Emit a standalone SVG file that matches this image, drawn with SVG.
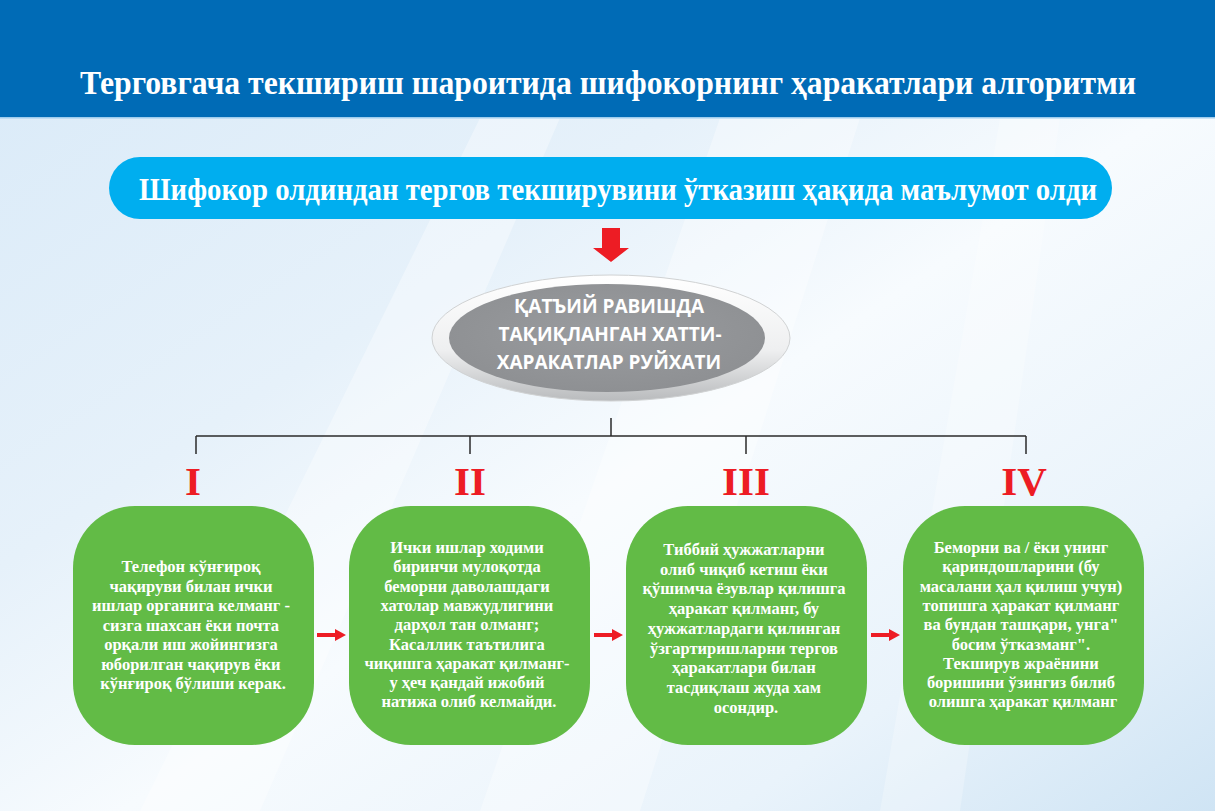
<svg xmlns="http://www.w3.org/2000/svg" width="1215" height="811" viewBox="0 0 1215 811">
  <defs>
    <linearGradient id="bg" x1="0" y1="0" x2="1" y2="1">
      <stop offset="0" stop-color="#d9eaf8"/>
      <stop offset="0.35" stop-color="#e6f1fa"/>
      <stop offset="0.55" stop-color="#f7fbfe"/>
      <stop offset="0.8" stop-color="#e9f3fb"/>
      <stop offset="1" stop-color="#cfe4f4"/>
    </linearGradient>
    <linearGradient id="ring" x1="0" y1="0" x2="0" y2="1">
      <stop offset="0" stop-color="#ffffff"/>
      <stop offset="0.6" stop-color="#eeeff0"/>
      <stop offset="1" stop-color="#b9bbbd"/>
    </linearGradient>
    <radialGradient id="core" cx="0.5" cy="0.45" r="0.6">
      <stop offset="0" stop-color="#9a9c9f"/>
      <stop offset="1" stop-color="#8d8f92"/>
    </radialGradient>
    <style>
      .title { font-family: "Liberation Serif", "DejaVu Serif", serif; font-weight: bold; fill: #ffffff; }
      .box { fill: #62bb46; }
      .boxtxt { font-family: "Liberation Serif", "DejaVu Serif", serif; font-weight: bold; font-size: 16.5px; fill: #ffffff; text-anchor: middle; }
      .roman { font-family: "Liberation Serif", "DejaVu Serif", serif; font-weight: bold; font-size: 41px; fill: #ed1c24; text-anchor: middle; }
      .ovaltxt { font-family: "Open Sans", "DejaVu Sans", sans-serif; font-weight: bold; font-size: 19px; fill: #ffffff; text-anchor: middle; }
      .tree { stroke: #2b2b2b; stroke-width: 1.5; fill: none; }
      .red { fill: #ed1c24; }
    </style>
  </defs>

  <!-- background -->
  <rect x="0" y="0" width="1215" height="811" fill="url(#bg)"/>
  <polygon points="480,118 560,118 260,811 140,811" fill="#ffffff" opacity="0.35"/>
  <polygon points="720,118 860,118 640,811 480,811" fill="#ffffff" opacity="0.35"/>
  <polygon points="1000,118 1060,118 960,811 880,811" fill="#ffffff" opacity="0.25"/>

  <!-- header -->
  <g id="header">
    <rect x="0" y="0" width="1215" height="117" fill="#006bb6"/>
    <rect x="0" y="117" width="1215" height="1.5" fill="#9fcdee"/>
    <text class="title" x="80" y="94" font-size="34" textLength="1056" lengthAdjust="spacingAndGlyphs">Терговгача текшириш шароитида шифокорнинг ҳаракатлари алгоритми</text>
  </g>

  <!-- start pill -->
  <g id="start">
    <rect x="109" y="157" width="1003" height="62" rx="31" ry="31" fill="#00aeef"/>
    <text class="title" x="139" y="200" font-size="32" textLength="958" lengthAdjust="spacingAndGlyphs">Шифокор олдиндан тергов текширувини ўтказиш ҳақида маълумот олди</text>
  </g>

  <!-- oval -->
  <g id="oval">
    <ellipse cx="611" cy="338" rx="179" ry="63" fill="url(#ring)" stroke="#d0d2d3" stroke-width="1"/>
    <ellipse cx="607" cy="338" rx="158" ry="54" fill="url(#core)"/>
    <text class="ovaltxt" x="609" y="313">ҚАТЪИЙ РАВИШДА</text>
    <text class="ovaltxt" x="610" y="341">ТАҚИҚЛАНГАН ХАТТИ-</text>
    <text class="ovaltxt" x="609" y="369">ХАРАКАТЛАР РУЙХАТИ</text>
  </g>

  <!-- connectors -->
  <g id="connectors">
    <polygon class="red" points="602,228 620,228 620,248 629,248 611,262 593,248 602,248"/>
    <path class="tree" d="M611,418 V436 M196,436 H1026 M196,436 V454 M470,436 V454 M746,436 V454 M1026,436 V454"/>
    <polygon class="red" points="317,633 335,633 335,629 346,635 335,641 335,637 317,637"/>
    <polygon class="red" points="594,633 612,633 612,629 623,635 612,641 612,637 594,637"/>
    <polygon class="red" points="871,633 889,633 889,629 900,635 889,641 889,637 871,637"/>
  </g>

  <!-- roman numerals -->
  <g id="numerals">
    <text class="roman" x="193" y="495">I</text>
    <text class="roman" x="470" y="495">II</text>
    <text class="roman" x="746" y="495">III</text>
    <text class="roman" x="1024" y="495">IV</text>
  </g>

  <!-- box I -->
  <g id="box1">
    <rect class="box" x="73" y="506" width="241" height="239" rx="62" ry="62"/>
    <text class="boxtxt">
      <tspan x="193" y="572">Телефон кўнғироқ</tspan>
      <tspan x="193" y="591.5">чақируви билан ички</tspan>
      <tspan x="193" y="611">ишлар органига келманг -</tspan>
      <tspan x="193" y="630.5">сизга шахсан ёки почта</tspan>
      <tspan x="193" y="650">орқали иш жойингизга</tspan>
      <tspan x="193" y="669.5">юборилган  чақирув ёки</tspan>
      <tspan x="193" y="689">кўнғироқ бўлиши  керак.</tspan>
    </text>
  </g>

  <!-- box II -->
  <g id="box2">
    <rect class="box" x="349" y="506" width="241" height="239" rx="62" ry="62"/>
    <text class="boxtxt">
      <tspan x="469" y="553">Ички ишлар ходими</tspan>
      <tspan x="469" y="572.3">биринчи мулоқотда</tspan>
      <tspan x="469" y="591.6">беморни даволашдаги</tspan>
      <tspan x="469" y="610.9">хатолар мавжудлигини</tspan>
      <tspan x="469" y="630.2">дарҳол тан олманг;</tspan>
      <tspan x="469" y="649.5">Касаллик таътилига</tspan>
      <tspan x="469" y="668.8">чиқишга  ҳаракат қилманг-</tspan>
      <tspan x="469" y="688.1">у ҳеч қандай ижобий</tspan>
      <tspan x="469" y="707.4">натижа  олиб келмайди.</tspan>
    </text>
  </g>

  <!-- box III -->
  <g id="box3">
    <rect class="box" x="626" y="506" width="241" height="239" rx="62" ry="62"/>
    <text class="boxtxt">
      <tspan x="746" y="555">Тиббий ҳужжатларни</tspan>
      <tspan x="746" y="574.7">олиб чиқиб кетиш ёки</tspan>
      <tspan x="746" y="594.4">қўшимча ёзувлар қилишга</tspan>
      <tspan x="746" y="614.1">ҳаракат қилманг,  бу</tspan>
      <tspan x="746" y="633.8">ҳужжатлардаги қилинган</tspan>
      <tspan x="746" y="653.5">ўзгартиришларни тергов</tspan>
      <tspan x="746" y="673.2">ҳаракатлари билан</tspan>
      <tspan x="746" y="692.9">тасдиқлаш жуда хам</tspan>
      <tspan x="746" y="712.6">осондир.</tspan>
    </text>
  </g>

  <!-- box IV -->
  <g id="box4">
    <rect class="box" x="903" y="506" width="241" height="239" rx="62" ry="62"/>
    <text class="boxtxt">
      <tspan x="1023" y="553">Беморни ва / ёки унинг</tspan>
      <tspan x="1023" y="572.3">қариндошларини (бу</tspan>
      <tspan x="1023" y="591.6">масалани ҳал қилиш учун)</tspan>
      <tspan x="1023" y="610.9">топишга ҳаракат қилманг</tspan>
      <tspan x="1023" y="630.2">ва бундан ташқари, унга"</tspan>
      <tspan x="1023" y="649.5">босим ўтказманг".</tspan>
      <tspan x="1023" y="668.8">Текширув жраёнини</tspan>
      <tspan x="1023" y="688.1">боришини ўзингиз билиб</tspan>
      <tspan x="1023" y="707.4">олишга ҳаракат қилманг</tspan>
    </text>
  </g>
</svg>
